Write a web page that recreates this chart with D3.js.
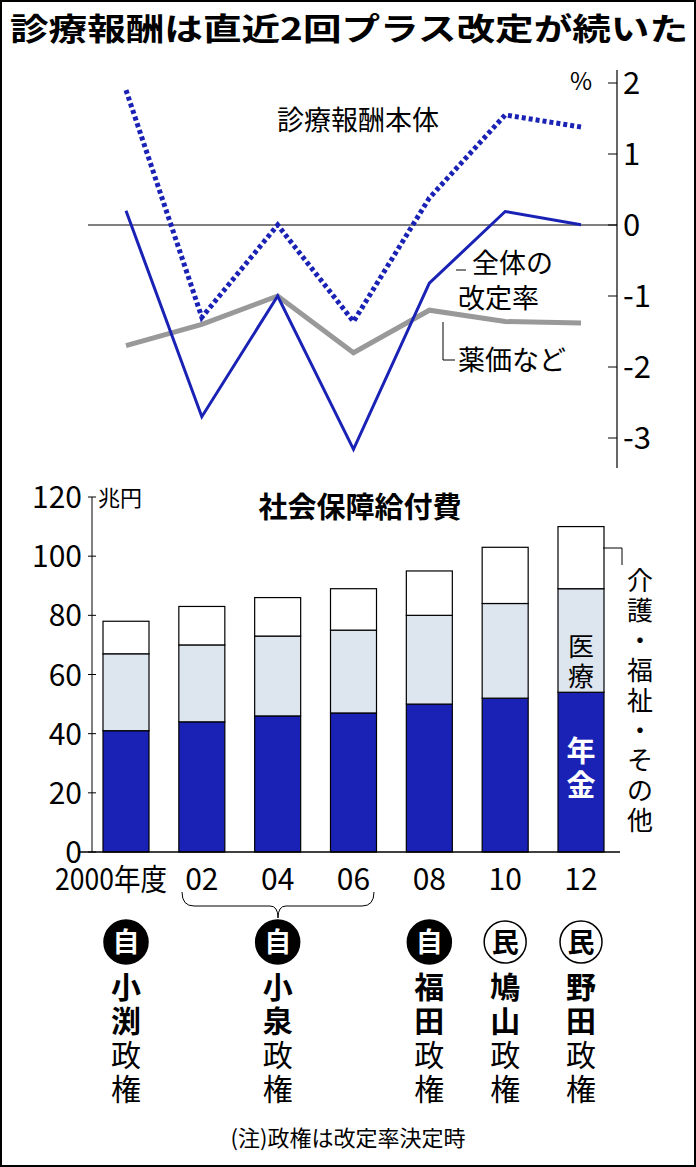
<!DOCTYPE html><html><head><meta charset="utf-8"><script src="https://cdn.jsdelivr.net/npm/d3@7"></script>
<style>body{margin:0;background:#fff}text{font-family:"Noto Sans CJK JP",sans-serif}</style></head><body>
<svg id="c" width="696" height="1167"></svg>
<script>
const years=["2000年度","02","04","06","08","10","12"];
const totalRate=[0.2,-2.7,-1.0,-3.16,-0.82,0.19,0.004];
const mainRate=[1.9,-1.3,0,-1.36,0.38,1.55,1.38];
const drugRate=[-1.7,-1.4,-1.0,-1.8,-1.2,-1.36,-1.38];
const pension=[41,44,46,47,50,52,54];
const medical=[26,26,27,28,30,32,35];
const welfare=[11,13,13,14,15,19,21];
const parties=["自","","自","","自","民","民"];
const leaders=["小渕","","小泉","","福田","鳩山","野田"];
const rateTicks=[2,1,0,-1,-2,-3];
const benefitTicks=[0,20,40,60,80,100,120];
const NUM="Liberation Sans Narrow, Roboto Condensed, sans-serif";

const svg=d3.select("#c");
svg.append("rect").attr("x",1).attr("y",1).attr("width",694).attr("height",1165).attr("fill","none").attr("stroke","#000").attr("stroke-width",2);
svg.append("text").attr("x",10).attr("y",40).attr("textLength",678).attr("lengthAdjust","spacingAndGlyphs").attr("font-size",31).attr("font-weight","bold").text("診療報酬は直近2回プラス改定が続いた");

const x=d3.scalePoint().domain(years).range([126,581]);
const y=d3.scaleLinear().domain([-3,2]).range([438,83]);
const g=svg.append("g");
g.append("line").attr("x1",617).attr("x2",617).attr("y1",70).attr("y2",468).attr("stroke","#000").attr("stroke-width",1.2);
rateTicks.forEach(t=>{g.append("line").attr("x1",608).attr("x2",617).attr("y1",y(t)).attr("y2",y(t)).attr("stroke","#000");
g.append("text").attr("x",623).attr("y",y(t)+11).attr("font-size",31).attr("font-family",NUM).text(t);});
g.append("text").attr("x",570).attr("y",y(2)+7).attr("font-size",24).text("%");
g.append("line").attr("x1",88).attr("x2",617).attr("y1",y(0)).attr("y2",y(0)).attr("stroke","#000").attr("stroke-width",1);
const ln=d3.line().x((d,i)=>x(years[i])).y(d=>y(d));
g.append("path").attr("d",ln(drugRate)).attr("fill","none").attr("stroke","#999").attr("stroke-width",5);
g.append("path").attr("d",ln(mainRate)).attr("fill","none").attr("stroke","#1a22b5").attr("stroke-width",5).attr("stroke-dasharray","4,3");
g.append("path").attr("d",ln(totalRate)).attr("fill","none").attr("stroke","#1a22b5").attr("stroke-width",3);
g.append("text").attr("x",277).attr("y",130).attr("font-size",27).text("診療報酬本体");
g.append("text").attr("x",472).attr("y",273).attr("font-size",27).text("全体の");
g.append("text").attr("x",458).attr("y",308).attr("font-size",27).text("改定率");
g.append("line").attr("x1",456).attr("x2",466).attr("y1",270).attr("y2",270).attr("stroke","#000");
g.append("text").attr("x",458).attr("y",370).attr("font-size",27).text("薬価など");
g.append("path").attr("d","M443,322V360H455").attr("fill","none").attr("stroke","#000");

const yb=d3.scaleLinear().domain([0,120]).range([852,497]);
const b=svg.append("g");
benefitTicks.forEach(t=>{b.append("text").attr("x",82).attr("y",yb(t)+11).attr("text-anchor","end").attr("font-size",30).attr("font-family",NUM).text(t);
b.append("line").attr("x1",88).attr("x2",96).attr("y1",yb(t)).attr("y2",yb(t)).attr("stroke","#000");});
b.append("line").attr("x1",92).attr("x2",92).attr("y1",yb(120)).attr("y2",yb(0)).attr("stroke","#000");
b.append("text").attr("x",98).attr("y",yb(120)+9).attr("font-size",22).text("兆円");
b.append("text").attr("x",360).attr("y",518).attr("text-anchor","middle").attr("font-size",29).attr("font-weight","bold").text("社会保障給付費");
const bw=46;
years.forEach((yr,i)=>{const cx=x(yr);
 const segs=[[0,pension[i],"#1a22b5"],[pension[i],pension[i]+medical[i],"#dde5ef"],[pension[i]+medical[i],pension[i]+medical[i]+welfare[i],"#fff"]];
 segs.forEach(s=>b.append("rect").attr("x",cx-bw/2).attr("width",bw).attr("y",yb(s[1])).attr("height",yb(s[0])-yb(s[1])).attr("fill",s[2]).attr("stroke","#000").attr("stroke-width",1.2));
 const t=b.append("text").attr("y",890).attr("font-size",30).attr("font-family",NUM).text(yr);
 if(i==0) t.attr("x",55).attr("textLength",112).attr("lengthAdjust","spacingAndGlyphs"); else t.attr("x",cx).attr("text-anchor","middle");
});
b.append("line").attr("x1",80).attr("x2",620).attr("y1",yb(0)).attr("y2",yb(0)).attr("stroke","#000").attr("stroke-width",1.5);
const lx=x("12");
["医","療"].forEach((c,k)=>b.append("text").attr("x",lx).attr("y",656+k*30).attr("text-anchor","middle").attr("font-size",26).text(c));
["年","金"].forEach((c,k)=>b.append("text").attr("x",lx).attr("y",762+k*34).attr("text-anchor","middle").attr("font-size",29).attr("font-weight","bold").attr("fill","#fff").text(c));
["介","護","・","福","祉","・","そ","の","他"].forEach((c,k)=>b.append("text").attr("x",640).attr("y",590+k*30).attr("text-anchor","middle").attr("font-size",26).text(c));
b.append("path").attr("d","M603,548H622V565").attr("fill","none").attr("stroke","#000");
b.append("path").attr("d","M182,892Q182,906 194,906H270Q278,906 278,918Q278,906 286,906H362Q374,906 374,892").attr("fill","none").attr("stroke","#000");

years.forEach((yr,i)=>{if(!parties[i])return;const cx=x(yr);
 const filled=parties[i]=="自";
 svg.append("circle").attr("cx",cx).attr("cy",942).attr("r",filled?22:21).attr("fill",filled?"#000":"#fff").attr("stroke","#000").attr("stroke-width",1.5);
 svg.append("text").attr("x",cx).attr("y",952).attr("text-anchor","middle").attr("font-size",27).attr("font-weight","bold").attr("fill",filled?"#fff":"#000").text(parties[i]);
 const chars=[...leaders[i]].map(c=>[c,true]).concat([["政",false],["権",false]]);
 chars.forEach((c,k)=>svg.append("text").attr("x",cx).attr("y",998+k*34).attr("text-anchor","middle").attr("font-size",30).attr("font-weight",c[1]?"bold":"normal").text(c[0]));
});
svg.append("text").attr("x",348).attr("y",1146).attr("text-anchor","middle").attr("font-size",22).text("(注)政権は改定率決定時");
</script></body></html>
